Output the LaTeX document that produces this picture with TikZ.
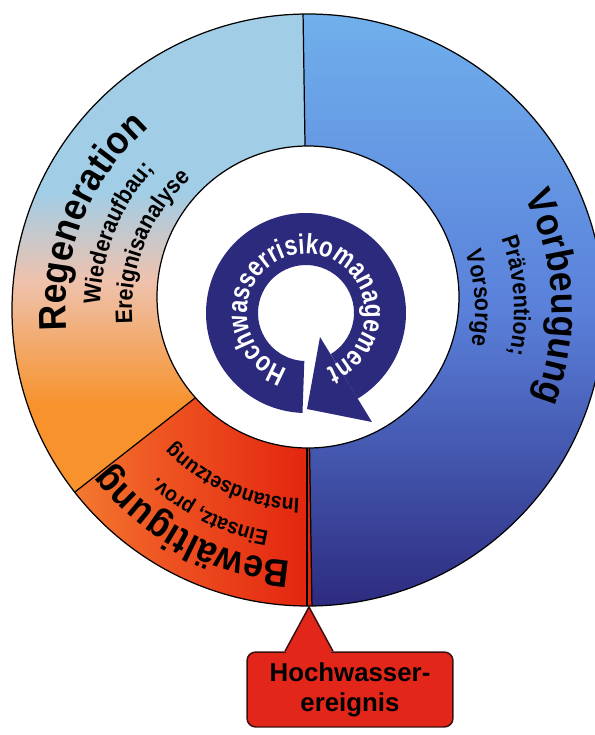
\documentclass[tikz,border=0pt]{standalone}
\usepackage{fontspec}
\setmainfont{Liberation Sans}
\newfontfamily\ringsf[FakeStretch=0.8]{Liberation Sans}
\newfontfamily\headsf[FakeStretch=0.92]{Liberation Sans}
\newfontfamily\subsf[FakeStretch=0.9]{Liberation Sans}
\usetikzlibrary{decorations.text,positioning,calc}

\definecolor{vortop}{HTML}{70B0EC}
\definecolor{vormid}{HTML}{5A80DA}
\definecolor{vorbot}{HTML}{2C2A7E}
\definecolor{regtop}{HTML}{A2CDE6}
\definecolor{regmid}{HTML}{EEC2AE}
\definecolor{regbot}{HTML}{F7922C}
\definecolor{bewleft}{HTML}{F7953A}
\definecolor{bewmid}{HTML}{EE5522}
\definecolor{bewright}{HTML}{E3240F}
\definecolor{ringblue}{HTML}{2C2A7C}
\definecolor{evred}{HTML}{E2261A}
\definecolor{evline}{HTML}{3A1010}

\pgfdeclareverticalshading{regshade}{100bp}{color(0bp)=(regbot); color(25bp)=(regbot); color(34bp)=(regbot); color(47bp)=(regmid); color(56bp)=(regtop); color(75bp)=(regtop); color(100bp)=(regtop)}

\newcommand{\seghead}{\headsf\bfseries\fontsize{22}{26}\selectfont}
\newcommand{\segsub}{\subsf\bfseries\fontsize{13.5}{16}\selectfont}
\newcommand{\segsmall}{\subsf\bfseries\fontsize{12.2}{15}\selectfont}
\newcommand{\ringtext}{\ringsf\bfseries\fontsize{16}{19}\selectfont}

\begin{document}
\begin{tikzpicture}[x=0.02cm, y=0.02cm,
    segline/.style={draw=black, line width=0.7pt},
    arctext/.style={decorate, decoration={text along path, text align=center, text={#1}}},
    ringtxt/.style={decorate, decoration={text along path, text align=center, text color=white, text={#1}}},
    eventbox/.style={draw=evline, fill=evred, line width=0.85pt, rounded corners=5pt, minimum width=4.12cm, minimum height=1.5cm, align=center, inner sep=0pt, font=\bfseries\fontsize{14.7}{17}\selectfont},
    evpointer/.style={draw=evline, fill=evred, line width=0.85pt, line join=miter}
]
\useasboundingbox (-308,-425) rectangle (287,310);

% ring segments
\begin{scope}
  \clip (0,0) circle (296);
  \shade[top color=vortop, bottom color=vorbot, middle color=vormid] (-5,300) -- (4,-300) -- (300,-300) -- (300,300) -- cycle;
  \shade[shading=regshade] (-5,300) -- (-0.5,0) -- (218:296) -- (-300,-182) -- (-300,300) -- cycle;
  \shade[left color=bewleft, right color=bewright, middle color=bewmid] (-0.5,0) -- (218:380) -- (-300,-300) -- (4,-300) -- cycle;
  \draw[segline] (-5,300) -- (4,-300);
  \draw[segline] (-0.5,0) -- (218:380);
  \draw[segline] (-1,-100) -- (-1,-300);
\end{scope}
\draw[segline] (0,0) circle (296);
\draw[segline, fill=white] (0,13) circle (151);

% cycle arrow
\begin{scope}[shift={(-2,-3)}]
  \fill[ringblue] (268:100) arc[start angle=268, end angle=-59, radius=100] -- (-59:48) arc[start angle=-59, end angle=268, radius=48] -- cycle;
  \fill[ringblue] (14,-24) -- (1,-96) -- (66,-109) -- cycle;
  \path[ringtxt={|\ringtext|Hochwasserrisikomanagement}] (271:59) arc[start angle=271, end angle=-88, radius=59];
\end{scope}

% labels along the ring
\path[arctext={|\seghead|Regeneration}] (200:242) arc[start angle=200, end angle=116, radius=242];
\path[arctext={|\segsub|Wiederaufbau;}] (200:208) arc[start angle=200, end angle=116, radius=208];
\path[arctext={|\segsub|Ereignisanalyse}] (200:176) arc[start angle=200, end angle=116, radius=176];

\path[arctext={|\seghead|Vorbeugung}] (45:244) arc[start angle=45, end angle=-39, radius=244];
\path[arctext={|\segsub|Prävention;}] (46:206) arc[start angle=46, end angle=-38, radius=206];
\path[arctext={|\segsub|Vorsorge}] (46:167) arc[start angle=46, end angle=-38, radius=167];

\path[arctext={|\seghead|Bewältigung}] (284:252) arc[start angle=284, end angle=200, radius=252];
\path[arctext={|\segsmall|Einsatz, prov.}] (286:225) arc[start angle=286, end angle=202, radius=225];
\path[arctext={|\segsmall|Instandsetzung}] (288:189) arc[start angle=288, end angle=204, radius=189];

% event callout
\node[eventbox] (event) at (42,-379.5) {Hochwasser-\\ereignis};
\coordinate (evtip) at (1,-297);
\filldraw[evpointer] ($(event.north)+(-65,0)$) -- (evtip) -- ($(event.north)+(-17,0)$);
\fill[evred] ($(event.north)+(-63.5,-2.5)$) rectangle ($(event.north)+(-18.5,0.3)$);
\end{tikzpicture}
\end{document}
